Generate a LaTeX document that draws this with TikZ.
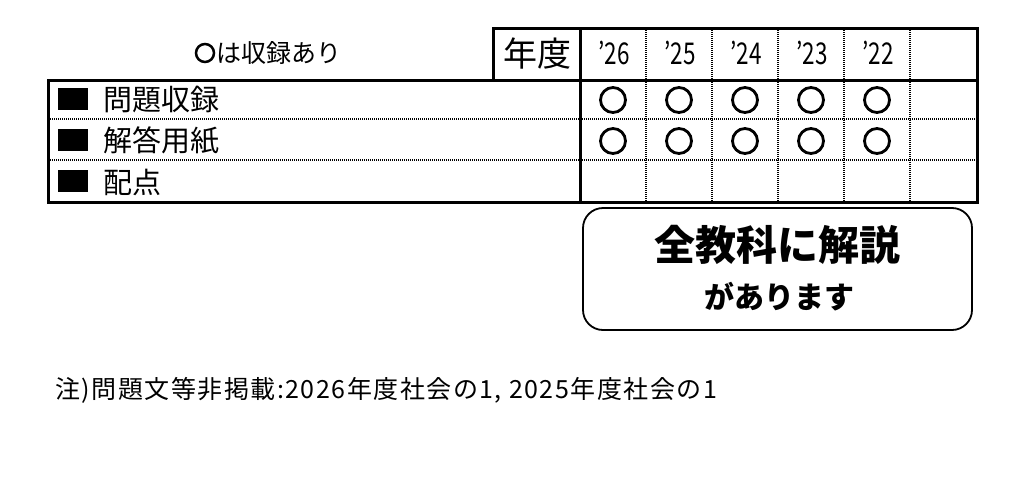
\documentclass[tikz,border=0pt]{standalone}
\usepackage{fontspec}
\setmainfont{Noto Sans CJK JP}
\begin{document}
\begin{tikzpicture}[x=1pt,y=-1pt,
    thickline/.style={line width=3pt},
    dotline/.style={line width=2pt,dash pattern=on 1pt off 1pt},
    circmark/.style={circle,draw,line width=2.8pt,minimum size=25pt,inner sep=0pt},
    rowtext/.style={anchor=west,font=\fontsize{29}{29}\selectfont,inner sep=0pt},
    yeartext/.style={font=\fontsize{30}{30}\selectfont\addfontfeatures{FakeStretch=0.75}}]
  \useasboundingbox (0,0) rectangle (1028,498);
  % grid
  \draw[dotline] (48,119) -- (977,119);
  \draw[dotline] (48,160) -- (977,160);
  \foreach \x in {646,712,778,844,910}
    \draw[dotline] (\x,28) -- (\x,202);
  \draw[thickline] (48,80) rectangle (977,202);
  \draw[thickline] (580,28) rectangle (977,202);
  \draw[thickline] (493,28) rectangle (580,80);
  \node[font=\fontsize{34}{34}\selectfont] (nendo) at (537,54) {年度};
  % years
  \foreach \y [count=\i] in {26,25,24,23,22}
    \node[yeartext] (yr\i) at ({614+66*(\i-1)},53) {’\y};
  % rows
  \foreach \t [count=\j] in {問題収録,解答用紙,配点} {
    \fill ({58},{88+41*(\j-1)}) rectangle ++(30,22);
    \node[rowtext] (row\j) at (103,{100+41*(\j-1)}) {\t};
  }
  \foreach \j in {1,2}
    \foreach \i in {1,...,5}
      \node[circmark] (m\j\i) at ({613+66*(\i-1)},{100+41*(\j-1)}) {};
  \node[circle,draw,line width=2.5pt,minimum size=18pt,inner sep=0pt] (legmark) at (205,53) {};
  \node[anchor=west,font=\fontsize{25}{25}\selectfont,inner sep=0pt] (legend) at (216,53) {は収録あり};
  % box
  \draw[line width=1.8pt,rounded corners=20pt] (583,208) rectangle (972,330);
  \node[font=\fontsize{41}{41}\selectfont\bfseries] (kaisetsu) at (777,245) {全教科に解説};
  \node[font=\fontsize{30}{30}\selectfont\bfseries] (ari) at (779,297) {があります};
  \node[anchor=west,font=\fontsize{25}{25}\selectfont\addfontfeatures{LetterSpace=6},inner sep=0pt] (note) at (55,390)
    {注)問題文等非掲載:2026年度社会の1, 2025年度社会の1};
\end{tikzpicture}
\end{document}
